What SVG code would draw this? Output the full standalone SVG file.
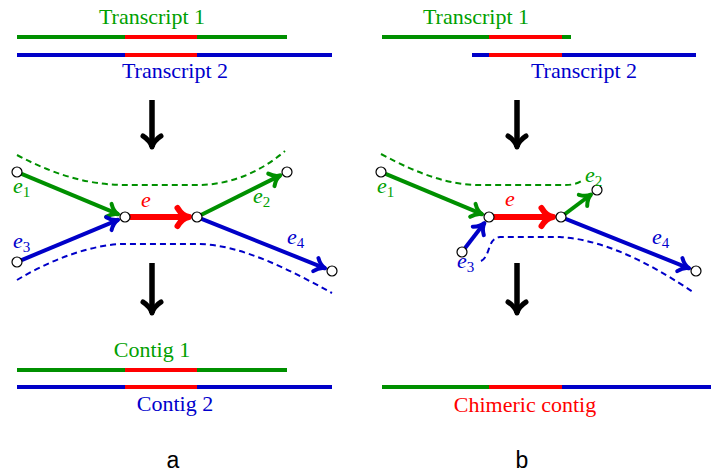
<svg xmlns="http://www.w3.org/2000/svg" width="711" height="472" viewBox="0 0 711 472">
<style>
.t{font-family:"Liberation Serif","DejaVu Serif",serif;font-size:22px;text-anchor:middle}
.lab{font-family:"Liberation Serif","DejaVu Serif",serif;font-size:22px;font-style:italic}
.sub{font-size:15px;font-style:normal}
.g{fill:#00a000}.b{fill:#0000cc}.r{fill:#ff0000}
.bar{stroke-width:4;fill:none}
.eg{stroke:#009000;stroke-width:4;fill:none;marker-end:url(#mg)}
.eb{stroke:#0000c8;stroke-width:4;fill:none;marker-end:url(#mb)}
.er{stroke:#ff0000;stroke-width:6;fill:none;marker-end:url(#mr)}
.dg{stroke:#009000;stroke-width:2;fill:none;stroke-dasharray:6 4}
.db{stroke:#0000c8;stroke-width:2;fill:none;stroke-dasharray:6 4}
.nd{fill:#fff;stroke:#000;stroke-width:1.2}
.big{stroke:#000;stroke-width:5.5;fill:none;marker-end:url(#mk)}
.ab{font-family:"Liberation Sans","DejaVu Sans",sans-serif;font-size:23px;text-anchor:middle;fill:#000}
</style>
<defs>
<marker id="mg" markerUnits="userSpaceOnUse" orient="auto" refX="2" refY="0" overflow="visible"><path d="M-8,-7 C-5,-3 -1,-0.5 2,0 C-1,0.5 -5,3 -8,7" fill="none" stroke="#009000" stroke-width="4" stroke-linecap="round" stroke-linejoin="round"/></marker>
<marker id="mb" markerUnits="userSpaceOnUse" orient="auto" refX="2" refY="0" overflow="visible"><path d="M-8,-7 C-5,-3 -1,-0.5 2,0 C-1,0.5 -5,3 -8,7" fill="none" stroke="#0000c8" stroke-width="4" stroke-linecap="round" stroke-linejoin="round"/></marker>
<marker id="mr" markerUnits="userSpaceOnUse" orient="auto" refX="2.5" refY="0" overflow="visible"><path d="M-9,-9 C-6,-4 -1,-0.5 2.5,0 C-1,0.5 -6,4 -9,9" fill="none" stroke="#ff0000" stroke-width="6" stroke-linecap="round" stroke-linejoin="round"/></marker>
<marker id="mk" markerUnits="userSpaceOnUse" orient="auto" refX="2" refY="0" overflow="visible"><path d="M-9,-9 C-6,-4 -1,-0.5 2,0 C-1,0.5 -6,4 -9,9" fill="none" stroke="#000" stroke-width="5" stroke-linecap="round" stroke-linejoin="round"/></marker>
</defs>

<!-- Panel a: transcripts -->
<g id="transcripts-a">
<text class="t g" x="152" y="24">Transcript 1</text>
<line class="bar" x1="17" y1="37" x2="287" y2="37" stroke="#009000"/>
<line class="bar" x1="125" y1="37" x2="197" y2="37" stroke="#ff0000"/>
<line class="bar" x1="17" y1="55" x2="332" y2="55" stroke="#0000c8"/>
<line class="bar" x1="125" y1="55" x2="197" y2="55" stroke="#ff0000"/>
<text class="t b" x="175" y="78">Transcript 2</text>
</g>

<!-- Panel b: transcripts -->
<g id="transcripts-b">
<text class="t g" x="476" y="24">Transcript 1</text>
<line class="bar" x1="382" y1="37" x2="571" y2="37" stroke="#009000"/>
<line class="bar" x1="489" y1="37" x2="562" y2="37" stroke="#ff0000"/>
<line class="bar" x1="472" y1="55" x2="696" y2="55" stroke="#0000c8"/>
<line class="bar" x1="489" y1="55" x2="562" y2="55" stroke="#ff0000"/>
<text class="t b" x="584" y="78">Transcript 2</text>
</g>

<!-- big arrows -->
<g id="big-arrows">
<line class="big" x1="152" y1="100" x2="152" y2="147"/>
<line class="big" x1="152" y1="263" x2="152" y2="313"/>
<line class="big" x1="517" y1="100" x2="517" y2="147"/>
<line class="big" x1="517" y1="263" x2="517" y2="313"/>
</g>

<!-- Panel a graph connectors -->
<g id="connectors-a">
<path class="dg" d="M17,155 C60,178 95,185 125,185 L197,185 C228,185 258,174 285,151"/>
<path class="db" d="M17,280 C50,260 92,244 125,244 L197,244 C240,244 290,270 332,293"/>
<line class="eg" x1="21.6" y1="173.9" x2="118.1" y2="214.2"/>
<line class="eb" x1="21.6" y1="260.1" x2="118.1" y2="219.8"/>
<line class="er" x1="130" y1="217" x2="189" y2="217"/>
<line class="eg" x1="201.5" y1="214.8" x2="280.3" y2="175.4"/>
<line class="eb" x1="201.6" y1="218.9" x2="325.1" y2="268.3"/>
</g>
<g id="nodes-a">
<circle class="nd" cx="17" cy="172" r="5"/>
<circle class="nd" cx="125" cy="217" r="5"/>
<circle class="nd" cx="197" cy="217" r="5"/>
<circle class="nd" cx="287" cy="172" r="5"/>
<circle class="nd" cx="17" cy="262" r="5"/>
<circle class="nd" cx="332" cy="271" r="5"/>
</g>
<g id="labels-a">
<text class="lab g" x="13" y="193">e<tspan class="sub" dy="4">1</tspan></text>
<text class="lab r" x="141" y="207">e</text>
<text class="lab g" x="253" y="203">e<tspan class="sub" dy="4">2</tspan></text>
<text class="lab b" x="13" y="248">e<tspan class="sub" dy="4">3</tspan></text>
<text class="lab b" x="287" y="244">e<tspan class="sub" dy="4">4</tspan></text>
</g>

<!-- Panel b graph connectors -->
<g id="connectors-b">
<path class="dg" d="M381,154 C420,175 450,185 480,185 L565,185 C574,185 579,183 583,180"/>
<path class="db" d="M481,261 C491,256 487,238 500,237 L560,237 C610,240 660,270 693,292"/>
<line class="eg" x1="385.6" y1="173.9" x2="482.1" y2="214.2"/>
<line class="eb" x1="465.1" y1="248" x2="484.4" y2="223"/>
<line class="er" x1="494" y1="217" x2="553" y2="217"/>
<line class="eg" x1="565" y1="214" x2="591" y2="194.5"/>
<line class="eb" x1="565.6" y1="218.9" x2="689.1" y2="268.3"/>
</g>
<g id="nodes-b">
<circle class="nd" cx="381" cy="172" r="5"/>
<circle class="nd" cx="489" cy="217" r="5"/>
<circle class="nd" cx="561" cy="217" r="5"/>
<circle class="nd" cx="597" cy="190" r="5"/>
<circle class="nd" cx="462" cy="252" r="5"/>
<circle class="nd" cx="696" cy="271" r="5"/>
</g>
<g id="labels-b">
<text class="lab g" x="377" y="193">e<tspan class="sub" dy="4">1</tspan></text>
<text class="lab r" x="505" y="206">e</text>
<text class="lab g" x="585" y="182">e<tspan class="sub" dy="4">2</tspan></text>
<text class="lab b" x="457" y="268">e<tspan class="sub" dy="4">3</tspan></text>
<text class="lab b" x="652" y="244">e<tspan class="sub" dy="4">4</tspan></text>
</g>

<!-- Panel a contigs -->
<g id="contigs-a">
<text class="t g" x="152" y="357">Contig 1</text>
<line class="bar" x1="17" y1="370" x2="287" y2="370" stroke="#009000"/>
<line class="bar" x1="125" y1="370" x2="197" y2="370" stroke="#ff0000"/>
<line class="bar" x1="17" y1="387" x2="332" y2="387" stroke="#0000c8"/>
<line class="bar" x1="125" y1="387" x2="197" y2="387" stroke="#ff0000"/>
<text class="t b" x="175" y="411">Contig 2</text>
</g>

<!-- Panel b chimeric contig -->
<g id="contig-b">
<line class="bar" x1="382" y1="387" x2="489" y2="387" stroke="#009000"/>
<line class="bar" x1="489" y1="387" x2="562" y2="387" stroke="#ff0000"/>
<line class="bar" x1="562" y1="387" x2="711" y2="387" stroke="#0000c8"/>
<text class="t r" x="525" y="412">Chimeric contig</text>
</g>

<g id="panel-labels">
<text class="ab" x="173" y="468">a</text>
<text class="ab" x="522" y="468">b</text>
</g>
</svg>
